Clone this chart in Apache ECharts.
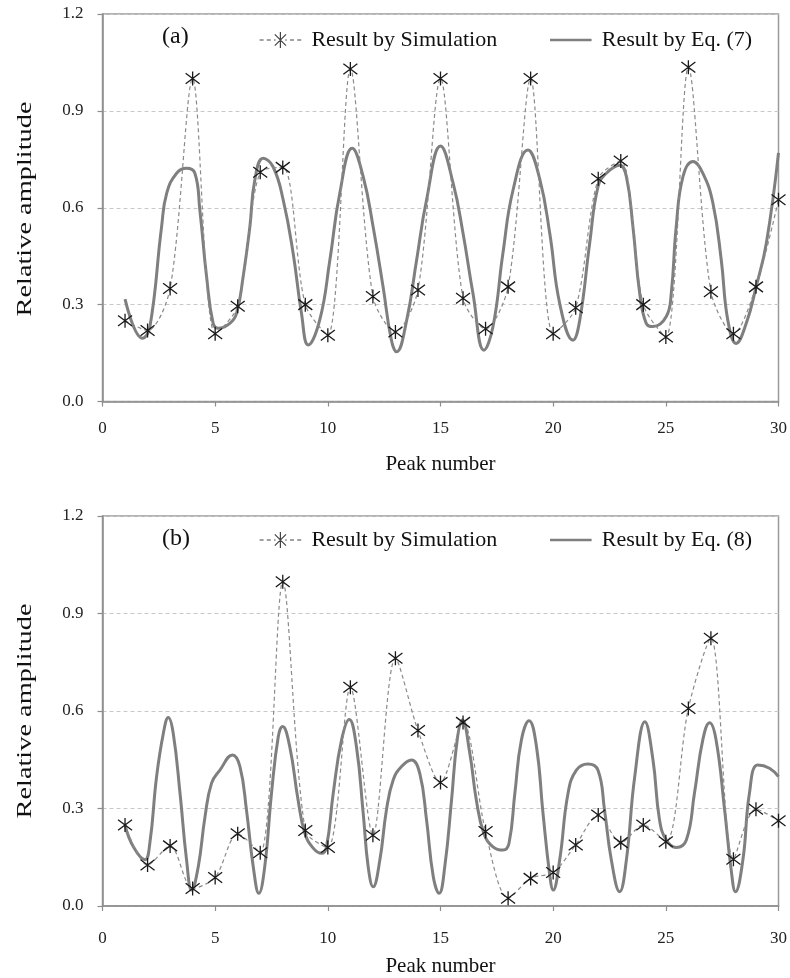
<!DOCTYPE html>
<html>
<head>
<meta charset="utf-8">
<script src="https://cdn.jsdelivr.net/npm/echarts@6/dist/echarts.min.js"></script>
<style>
html,body{margin:0;padding:0;background:#fff;}
#chart{width:790px;height:978px;}
</style>
</head>
<body>
<div id="chart"></div>
<script>
const peakNumbers = [1,2,3,4,5,6,7,8,9,10,11,12,13,14,15,16,17,18,19,20,21,22,23,24,25,26,27,28,29,30];
const simA = [0.25,0.22,0.35,1.0,0.21,0.295,0.71,0.725,0.30,0.205,1.03,0.325,0.215,0.345,1.0,0.32,0.225,0.355,1.0,0.21,0.29,0.69,0.745,0.30,0.20,1.035,0.34,0.21,0.355,0.625];
const eq7X = [1.0,1.78,2.1,2.62,2.85,3.29,3.73,4.1,4.32,4.62,4.91,5.14,5.65,5.95,6.24,6.54,6.76,7.13,7.57,8.02,8.46,8.83,9.13,9.65,10.09,10.53,11.08,11.57,12.01,12.45,12.82,13.05,13.5,13.94,14.38,15.0,15.56,16.0,16.44,16.93,17.33,17.77,18.22,18.88,19.4,19.85,20.3,20.88,21.18,21.62,21.99,22.36,22.95,23.25,23.54,23.84,24.13,24.43,25.02,25.24,25.46,25.76,26.2,26.64,27.09,27.46,27.75,28.12,28.57,29.01,29.46,30.0];
const eq7Y = [0.317,0.196,0.23,0.54,0.645,0.707,0.722,0.707,0.593,0.386,0.242,0.227,0.242,0.273,0.386,0.541,0.686,0.753,0.727,0.624,0.459,0.273,0.175,0.255,0.438,0.645,0.784,0.696,0.541,0.356,0.19,0.154,0.252,0.438,0.624,0.791,0.676,0.521,0.335,0.159,0.232,0.459,0.655,0.779,0.69,0.52,0.30,0.19,0.252,0.49,0.665,0.707,0.732,0.696,0.541,0.335,0.242,0.232,0.263,0.335,0.541,0.696,0.743,0.707,0.614,0.438,0.252,0.18,0.242,0.356,0.49,0.77];
const simB = [0.249,0.126,0.185,0.054,0.088,0.222,0.164,0.998,0.232,0.18,0.673,0.218,0.762,0.54,0.38,0.565,0.229,0.024,0.085,0.103,0.188,0.28,0.195,0.249,0.198,0.608,0.824,0.144,0.298,0.262];
const eq8X = [1.0,1.37,1.88,2.1,2.4,2.7,2.92,3.14,3.44,3.73,3.96,4.25,4.55,4.84,5.21,5.77,6.1,6.39,6.69,6.94,7.2,7.5,7.8,7.99,8.31,8.68,8.98,9.35,9.72,9.94,10.24,10.61,10.95,11.27,11.57,11.79,12.01,12.31,12.6,12.9,13.27,13.71,14.08,14.38,14.68,14.94,15.19,15.49,15.74,15.97,16.3,16.59,16.92,17.33,17.78,18.04,18.3,18.59,18.93,19.26,19.55,19.84,20.0,20.29,20.66,21.03,21.54,21.99,22.28,22.58,22.95,23.25,23.62,24.07,24.43,24.72,25.02,25.46,25.91,26.27,26.64,26.94,27.23,27.61,27.9,28.09,28.42,28.71,29.08,29.6,30.0];
const eq8Y = [0.249,0.182,0.142,0.193,0.398,0.531,0.58,0.531,0.347,0.142,0.049,0.121,0.275,0.378,0.418,0.465,0.429,0.295,0.121,0.039,0.121,0.347,0.521,0.552,0.49,0.326,0.224,0.178,0.162,0.182,0.347,0.511,0.574,0.49,0.285,0.121,0.059,0.142,0.295,0.388,0.429,0.449,0.408,0.265,0.09,0.039,0.121,0.326,0.511,0.572,0.47,0.326,0.224,0.182,0.172,0.193,0.347,0.511,0.57,0.49,0.285,0.10,0.049,0.142,0.347,0.418,0.437,0.418,0.295,0.142,0.044,0.142,0.398,0.567,0.449,0.265,0.203,0.18,0.203,0.347,0.511,0.564,0.511,0.295,0.111,0.044,0.142,0.347,0.434,0.424,0.398];
const xTicks = [0,5,10,15,20,25,30];
const yTicks = [0.0,0.3,0.6,0.9,1.2];
const panelLabels = ['(a)','(b)'];
const simName = 'Result by Simulation';
const eqNames = ['Result by Eq. (7)','Result by Eq. (8)'];
const xTitle = 'Peak number';
const yTitle = 'Relative amplitude';

const FONT = '"Liberation Serif","Times New Roman",serif';
const STAR = 'path://M0,-10 L0,10 M-7.5,-7.5 L7.5,7.5 M-7.5,7.5 L7.5,-7.5';
const SIM_ICON = 'path://M0,10 L5,10 M9,10 L14,10 M18,10 L20,10 M19,3 L33,17 M19,17 L33,3 M26,0 L26,20 M32,10 L34,10 M38,10 L43,10 M47,10 L52,10';
const EQ_ICON = 'path://M0,0 L0.01,0 L0.01,0.01 Z M0,20 L0.01,20 L0.01,19.99 Z M0,8.5 L52,8.5 L52,11.5 L0,11.5 Z';

function pairs(xs, ys){ return xs.map((x,i)=>[x, ys[i]]); }

const grids = [
  {left:102.5, right:11, top:14, height:387.5},
  {left:102.5, right:11, top:516, height:390}
];
const layout = [
  {labelMargin:19, nameGap:52, legendTop:24, labelTop:25, yNameCenter:209},
  {labelMargin:24, nameGap:50, legendTop:524, labelTop:527, yNameCenter:711}
];
const xAxes = [], yAxes = [], series = [], legends = [], graphics = [];
grids.forEach((g, i) => {
  const L = layout[i];
  g.show = true; g.borderColor = '#9a9a9a'; g.borderWidth = 1.5;
  xAxes.push({
    type:'value', gridIndex:i, min:xTicks[0], max:xTicks[xTicks.length-1], interval:5,
    name:xTitle, nameLocation:'middle', nameGap:L.nameGap,
    nameTextStyle:{fontFamily:FONT, fontSize:21, color:'#111'},
    axisLine:{lineStyle:{color:'#8c8c8c', width:1.5}},
    axisTick:{show:true, inside:false, length:5, lineStyle:{color:'#8c8c8c', width:1.2}},
    axisLabel:{fontFamily:FONT, fontSize:17, color:'#222', margin:L.labelMargin},
    splitLine:{show:false}
  });
  yAxes.push({
    type:'value', gridIndex:i, min:yTicks[0], max:yTicks[yTicks.length-1], interval:0.3,
    axisLine:{show:true, lineStyle:{color:'#8c8c8c', width:1.5}},
    axisTick:{show:true, inside:false, length:5, lineStyle:{color:'#8c8c8c', width:1.2}},
    axisLabel:{fontFamily:FONT, fontSize:17, color:'#222', margin:19, formatter:v=>v.toFixed(1)},
    splitLine:{show:true, lineStyle:{color:'#c8c8c8', type:[4,3], width:1}}
  });
  const simData = i===0 ? simA : simB;
  series.push({
    name: simName, type:'line', xAxisIndex:i, yAxisIndex:i,
    data: pairs(peakNumbers, simData),
    smooth:0.3,
    symbol: STAR, symbolSize:14, showSymbol:true,
    itemStyle:{color:'rgba(0,0,0,0)', borderColor:'#1a1a1a', borderWidth:1.3},
    lineStyle:{color:'#8a8a8a', width:1.2, type:[4,3]},
    z:3, animation:false
  });
  series.push({
    name: eqNames[i], type:'line', xAxisIndex:i, yAxisIndex:i,
    data: i===0 ? pairs(eq7X, eq7Y) : pairs(eq8X, eq8Y),
    smooth:0.45, showSymbol:false, symbol:'none',
    lineStyle:{color:'#7f7f7f', width:3},
    itemStyle:{color:'#7f7f7f'},
    z:2, animation:false
  });
  legends.push({
    left:254, top:L.legendTop, itemWidth:52, itemHeight:16, itemGap:6,
    data:[{name:simName, icon:SIM_ICON, itemStyle:{color:'rgba(0,0,0,0)', borderColor:'#444', borderWidth:1.2}}],
    textStyle:{fontFamily:FONT, fontSize:22, color:'#111'},
    selectedMode:false
  });
  legends.push({
    left:545, top:L.legendTop, itemWidth:52, itemHeight:16, itemGap:4,
    data:[{name:eqNames[i], icon:EQ_ICON, itemStyle:{color:'#7f7f7f', borderWidth:0}}],
    textStyle:{fontFamily:FONT, fontSize:22, color:'#111'},
    selectedMode:false
  });
  graphics.push({
    type:'text', left:162, top:L.labelTop,
    style:{text:panelLabels[i], font:'24px ' + FONT, fill:'#111'}
  });
  graphics.push({
    type:'text', x:25, y:L.yNameCenter, rotation:Math.PI/2, scaleX:1.35,
    style:{text:yTitle, font:'21px ' + FONT, fill:'#111', align:'center', verticalAlign:'middle'}
  });
});

const chart = echarts.init(document.getElementById('chart'), null, {renderer:'canvas'});
chart.setOption({
  backgroundColor:'#fff',
  animation:false,
  grid:grids, xAxis:xAxes, yAxis:yAxes, series:series, legend:legends, graphic:graphics
});
</script>
</body>
</html>
